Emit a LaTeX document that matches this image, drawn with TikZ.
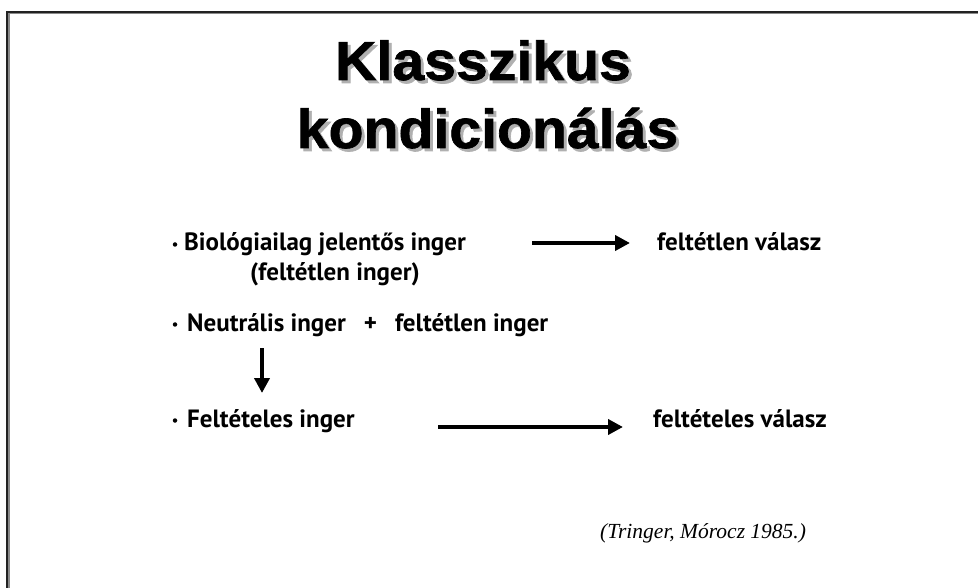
\documentclass[tikz,border=0pt]{standalone}
\usepackage{fontspec}
\setmainfont{Liberation Sans}
\newfontfamily\titlefont[FakeStretch=1.04,FakeBold=1.2]{Liberation Sans}
\newfontfamily\bodyfont{PT Sans}
\newfontfamily\citefont{Liberation Serif}
\usetikzlibrary{arrows.meta}
\definecolor{shadowgray}{HTML}{B0B0B0}
\definecolor{framedark}{HTML}{222222}
\definecolor{framegray}{HTML}{8A8A8A}
\begin{document}
\begin{tikzpicture}[x=1pt,y=-1pt,
  titletext/.style={inner sep=0pt, anchor=base, font=\titlefont\bfseries\fontsize{55}{60}\selectfont},
  bodytext/.style={inner sep=0pt, anchor=base west, font=\bodyfont\bfseries\fontsize{25}{30}\selectfont},
  bulletdot/.style={circle, fill=black, inner sep=0pt, minimum size=4.5pt},
  bigarrow/.style={line width=4.5pt, -{Triangle[length=15pt,width=15pt]}},
  citetext/.style={inner sep=0pt, anchor=base west, font=\citefont\itshape\fontsize{21.5}{26}\selectfont}]
\useasboundingbox (0,0) rectangle (978,588);
% frame
\draw[framegray, line width=1.2pt] (8.9,588) -- (8.9,13.6) -- (978,13.6);
\draw[framedark, line width=2.2pt] (7.3,588) -- (7.3,12) -- (978,12);
% title with shadow
\node[titletext, text=shadowgray] (t1s) at (486,83) {Klasszikus};
\node[titletext] (t1) at (483,80) {Klasszikus};
\node[titletext, text=shadowgray] (t2s) at (490.5,151) {kondicionálás};
\node[titletext] (t2) at (487.5,148) {kondicionálás};
% bullets
\node[bulletdot] (d1) at (175,244.5) {};
\node[bulletdot] (d2) at (175,324.5) {};
\node[bulletdot] (d3) at (175,420.5) {};
% body texts
\node[bodytext] (s1) at (184,251) {Biológiailag jelentős inger};
\node[bodytext] (s1b) at (250,281) {(feltétlen inger)};
\node[bodytext] (r1) at (657,251) {feltétlen válasz};
\node[bodytext] (s2) at (187,331) {Neutrális inger\hspace{18pt}+\hspace{18pt}feltétlen inger};
\node[bodytext] (s3) at (187,427) {Feltételes inger};
\node[bodytext] (r3) at (653,427) {feltételes válasz};
% arrows
\coordinate (a1s) at (532,243);
\coordinate (a1e) at (630,243);
\draw[bigarrow] (a1s) -- (a1e);
\coordinate (a2s) at (262,348);
\coordinate (a2e) at (262,393);
\draw[bigarrow, line width=4pt] (a2s) -- (a2e);
\coordinate (a3s) at (438,427);
\coordinate (a3e) at (623,427);
\draw[bigarrow] (a3s) -- (a3e);
% citation
\node[citetext] (cite) at (600,538) {(Tringer, Mórocz 1985.)};
\end{tikzpicture}
\end{document}
